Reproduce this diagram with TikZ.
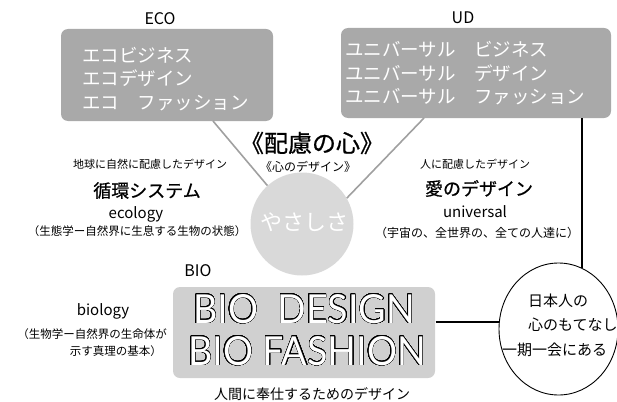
\documentclass[tikz,border=0pt]{standalone}
\usepackage{fontspec}
\setmainfont{Noto Sans CJK JP}
\newfontfamily\medfont{Noto Sans CJK JP}[FakeBold=0.7]
\newfontfamily\biofont{Lato}
\usepackage{contour}
\contourlength{0.35pt}
\contournumber{32}
\usetikzlibrary{shapes.geometric}
\definecolor{boxgray}{HTML}{A9A9A9}
\definecolor{biogray}{HTML}{D0D0D0}
\definecolor{circgray}{HTML}{D9D9D9}
\definecolor{linegray}{HTML}{A0A0A0}
\begin{document}
\begin{tikzpicture}[x=1pt,y=-1pt,
  fs/.style={font=\fontsize{#1}{#1}\selectfont},
  txt/.style={inner sep=0pt, anchor=center},
  graybox/.style={fill=boxgray, draw=none, rounded corners=7pt, inner sep=0pt},
  biobox/.style={fill=biogray, draw=none, rounded corners=7pt, inner sep=0pt},
  boxtext/.style={inner sep=0pt, anchor=west, align=left, text=white, font=\fontsize{18.5}{23.5}\selectfont},
  biotext/.style={inner sep=0pt, anchor=center, text=white, font=\fontsize{40}{40}\selectfont\biofont},
  conn/.style={draw=linegray, line width=1.6pt},
  blk/.style={draw=black, line width=1.3pt},
]
\useasboundingbox (0,0) rectangle (617,401);

% boxes
\node[graybox, minimum width=212pt, minimum height=92pt] (eco) at (167,75) {};
\node[boxtext] (ecot) at (82,79) {エコビジネス\\エコデザイン\\エコ　ファッション};
\node[graybox, minimum width=270pt, minimum height=90pt] (ud) at (476,73) {};
\node[boxtext] (udt) at (345,73.5) {ユニバーサル　ビジネス\\ユニバーサル　デザイン\\ユニバーサル　ファッション};
\node[biobox, minimum width=262pt, minimum height=91pt] (bio) at (304,332.5) {};

% labels
\node[txt, fs=16] (ecol) at (160,18.5) {ECO};
\node[txt, fs=16] (udl) at (463,18) {UD};
\node[txt, fs=16] (biol) at (198,271) {BIO};

% center circle
\node[circle, fill=circgray, minimum size=103pt, inner sep=0pt] (yasa) at (302,224) {};
\node[txt, fs=22, text=white] (yasat) at (304,222) {やさしさ};

% title
\node[txt, font=\fontsize{24}{24}\selectfont\medfont] (title) at (312,143) {《配慮の心》};
\node[txt, fs=12] (sub) at (308,167) {《心のデザイン》};

% left texts
\node[txt, fs=11] (l1) at (150,164) {地球に自然に配慮したデザイン};
\node[txt, font=\fontsize{18}{18}\selectfont\medfont] (l2) at (147,190.5) {循環システム};
\node[txt, fs=15] (l3) at (136,214) {ecology};
\node[txt, fs=11.5] (l4) at (137,231.5) {（生態学ー自然界に生息する生物の状態）};

% right texts
\node[txt, fs=11] (r1) at (475,164) {人に配慮したデザイン};
\node[txt, font=\fontsize{18}{18}\selectfont\medfont] (r2) at (479,188.5) {愛のデザイン};
\node[txt, fs=15] (r3) at (475,212) {universal};
\node[txt, fs=12] (r4) at (477,232.5) {（宇宙の、全世界の、全ての人達に）};

% bio texts
\node[txt, fs=15] (b1) at (103,311) {biology};
\node[txt, fs=11.5, anchor=east] (b2) at (167,334) {（生物学ー自然界の生命体が};
\node[txt, fs=11.5, anchor=east] (b3) at (162,351) {示す真理の基本）};
\node[txt, fs=14] (b4) at (312,394) {人間に奉仕するためのデザイン};

% bio design
\node[biotext] (bd1) at (304,309) {\scalebox{0.94}[1]{\contour{black}{BIO\ \ DESIGN}}};
\node[biotext] (bd2) at (307,351) {\scalebox{0.94}[1]{\contour{black}{BIO FASHION}}};

% right ellipse
\node[ellipse, draw=black, line width=0.9pt, minimum width=119pt, minimum height=132pt, inner sep=0pt] (circ) at (558.5,329) {};
\node[txt, fs=15, anchor=west] (c1) at (528,301) {日本人の};
\node[txt, fs=15, anchor=west] (c2) at (528,325) {心のもてなし};
\node[txt, fs=15, anchor=west] (c3) at (502,349.5) {一期一会にある};

% connectors
\coordinate (ecoend) at (213,121);
\coordinate (udend) at (424,118);
\draw[conn] (ecoend) -- (yasa.132);
\draw[conn] (udend) -- (yasa.30);
\coordinate (vtop) at (582,118);
\coordinate (vbot) at (582,267.5);
\draw[blk] (vtop) -- (vbot);
\coordinate (hl) at (435.5,322);
\draw[blk] (hl) -- (hl -| circ.west);
\end{tikzpicture}
\end{document}
